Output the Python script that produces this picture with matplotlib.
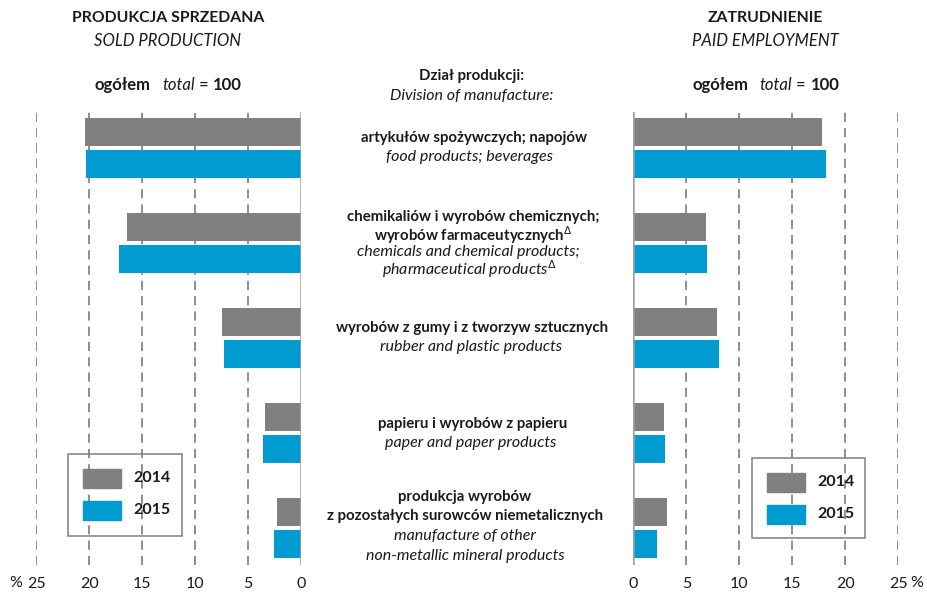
import matplotlib
matplotlib.use("Agg")
import matplotlib.pyplot as plt
from matplotlib.patches import Rectangle
import numpy as np

# ---------------- data ----------------
categories_pl = ["artykułów spożywczych; napojów",
                 "chemikaliów i wyrobów chemicznych; wyrobów farmaceutycznych",
                 "wyrobów z gumy i z tworzyw sztucznych",
                 "papieru i wyrobów z papieru",
                 "produkcja wyrobów z pozostałych surowców niemetalicznych"]
years = ["2014", "2015"]
sold_2014 = [20.4, 16.4, 7.45, 3.4, 2.25]
sold_2015 = [20.3, 17.2, 7.25, 3.6, 2.5]
empl_2014 = [17.8, 6.9, 7.9, 2.9, 3.2]
empl_2015 = [18.2, 6.95, 8.1, 3.0, 2.25]
ticks = [0, 5, 10, 15, 20, 25]
ticklabels = ["0", "5", "10", "15", "20", "25"]

GRAY = "#808080"
BLUE = "#009BD0"
TXT = "#1a1a1a"
FONT = "Lato"
plt.rcParams["font.family"] = [FONT, "DejaVu Sans"]

W, H = 928, 593
fig = plt.figure(figsize=(W / 100, H / 100), dpi=100)


def fx(x):
    return x / W


def fy(y):
    return 1 - y / H


ax_top, ax_bot = 112, 565
axL = fig.add_axes([fx(36.3), fy(ax_bot), fx(300.7 - 36.3), (ax_bot - ax_top) / H])
axR = fig.add_axes([fx(633.3), fy(ax_bot), fx(898.3 - 633.3), (ax_bot - ax_top) / H])

idx = np.arange(len(categories_pl))
off = 0.168
bh = 0.295

for ax, d14, d15 in [(axL, sold_2014, sold_2015), (axR, empl_2014, empl_2015)]:
    ax.barh(idx - off, d14, height=bh, color=GRAY, zorder=3)
    ax.barh(idx + off, d15, height=bh, color=BLUE, zorder=3)
    ax.set_ylim(4.39, -0.379)
    ax.set_xlim(0, 25)
    for s in ax.spines.values():
        s.set_visible(False)
    ax.set_yticks([])
    ax.set_xticks(ticks)
    ax.set_xticklabels(ticklabels, fontsize=11.5, color=TXT)
    ax.tick_params(axis="x", length=0, pad=9)
    for t in ticks[1:]:
        ax.axvline(t, color="#707070", lw=1.1, ls=(0, (6, 4)), zorder=1)
    ax.axvline(0, color="#a0a0a0", lw=1.8, zorder=4)
    ax.patch.set_alpha(0)

axL.invert_xaxis()


def ftext(x, y, s, size=10, weight="normal", style="normal", ha="center"):
    return fig.text(fx(x), fy(y), s, fontsize=size, fontweight=weight, fontstyle=style,
                    ha=ha, va="center", color=TXT)


# percent signs beside the 25 tick labels
ftext(16, 583, "%", size=11.5)
ftext(917, 583, "%", size=11.5)

# headers
ftext(168, 18, "PRODUKCJA SPRZEDANA", size=11.3, weight="bold")
ftext(168, 41, "SOLD PRODUCTION", size=12, style="italic")
ftext(765, 18, "ZATRUDNIENIE", size=11.3, weight="bold")
ftext(765, 41, "PAID EMPLOYMENT", size=12, style="italic")

renderer = fig.canvas.get_renderer()


def mixed(cx, cy, pieces, gaps, size=12):
    arts = []
    widths = []
    for s, w, st in pieces:
        t = fig.text(0, fy(cy), s, fontsize=size, fontweight=w, fontstyle=st,
                     ha="left", va="center", color=TXT)
        arts.append(t)
        widths.append(t.get_window_extent(renderer).width)
    total = sum(widths) + sum(gaps)
    x = cx - total / 2
    for i, t in enumerate(arts):
        t.set_x(fx(x))
        x += widths[i] + (gaps[i] if i < len(gaps) else 0)


tot_pieces = [("ogółem", "bold", "normal"), ("total", "normal", "italic"),
              ("=", "normal", "normal"), ("100", "bold", "normal")]
mixed(168.5, 85, tot_pieces, [11, 4, 5])
mixed(766, 85, tot_pieces, [11, 4, 5])

# center labels
B = 10.8
I = 11.5
ftext(471.5, 76, "Dział produkcji:", size=B, weight="bold")
ftext(471.5, 96, "Division of manufacture:", size=I, style="italic")

ftext(474, 138, "artykułów spożywczych; napojów", size=B, weight="bold")
ftext(470, 157, "food products; beverages", size=I, style="italic")

ftext(473, 217, "chemikaliów i wyrobów chemicznych;", size=B, weight="bold")
ftext(473, 235, r"wyrobów farmaceutycznych$^{\Delta}$", size=B, weight="bold")
ftext(468, 252, "chemicals and chemical products;", size=I, style="italic")
ftext(470, 269, r"pharmaceutical products$^{\Delta}$", size=I, style="italic")

ftext(472.5, 328, "wyrobów z gumy i z tworzyw sztucznych", size=B, weight="bold")
ftext(471, 347, "rubber and plastic products", size=I, style="italic")

ftext(472.5, 424, "papieru i wyrobów z papieru", size=B, weight="bold")
ftext(471, 443, "paper and paper products", size=I, style="italic")

ftext(465, 497, "produkcja wyrobów", size=B, weight="bold")
ftext(465, 516, "z pozostałych surowców niemetalicznych", size=B, weight="bold")
ftext(465, 536, "manufacture of other", size=I, style="italic")
ftext(465, 556, "non-metallic mineral products", size=I, style="italic")


# legends
def legend_box(x0, y0, x1, y1):
    fig.add_artist(Rectangle((fx(x0), fy(y1)), fx(x1 - x0), (y1 - y0) / H,
                             transform=fig.transFigure, fill=False,
                             edgecolor="#7f7f7f", lw=1.1))
    rows = [(years[0], GRAY, y0 + 24), (years[1], BLUE, y0 + 56)]
    for lab, col, yc in rows:
        fig.add_artist(Rectangle((fx(x0 + 15), fy(yc + 9.5)), fx(38), 19 / H,
                                 transform=fig.transFigure, color=col))
        fig.text(fx(x0 + 65), fy(yc), lab, fontsize=11.5, fontweight="bold",
                 ha="left", va="center", color=TXT)


legend_box(68, 454, 182, 536)
legend_box(752, 458, 865, 538)

fig.savefig("out.png", dpi=100)
